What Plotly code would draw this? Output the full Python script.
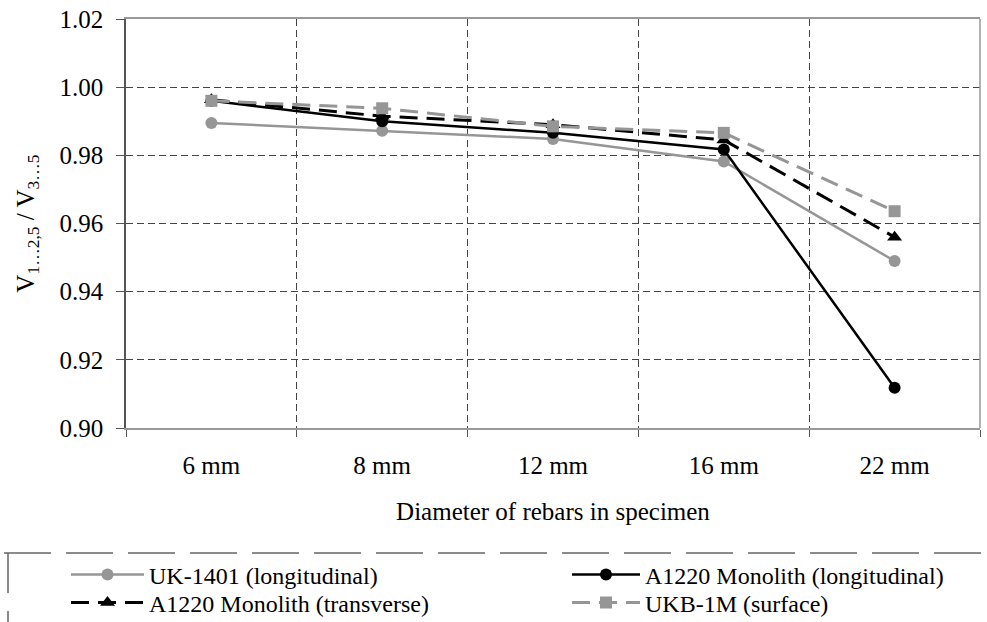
import plotly.graph_objects as go

categories = ["6 mm", "8 mm", "12 mm", "16 mm", "22 mm"]
uk1401_long = [0.9895, 0.9872, 0.9848, 0.9782, 0.9490]
a1220_long = [0.9960, 0.9900, 0.9866, 0.9817, 0.9118]
a1220_trans = [0.9963, 0.9915, 0.9890, 0.9845, 0.9560]
ukb1m_surf = [0.9960, 0.9938, 0.9885, 0.9866, 0.9636]
y_ticks = [0.90, 0.92, 0.94, 0.96, 0.98, 1.00, 1.02]

FONT = "Liberation Serif, Times New Roman, serif"
GRAY = "#969696"

fig = go.Figure()
fig.add_trace(go.Scatter(x=categories, y=uk1401_long, name="UK-1401 (longitudinal)",
                         mode="lines+markers", line=dict(color=GRAY, width=2.5),
                         marker=dict(symbol="circle", size=12, color=GRAY), legend="legend"))
fig.add_trace(go.Scatter(x=categories, y=a1220_long, name="A1220 Monolith (longitudinal)",
                         mode="lines+markers", line=dict(color="black", width=2.5),
                         marker=dict(symbol="circle", size=12, color="black"), legend="legend2"))
fig.add_trace(go.Scatter(x=categories, y=a1220_trans, name="A1220 Monolith (transverse)",
                         mode="lines+markers", line=dict(color="black", width=3, dash="18px,9px"),
                         marker=dict(symbol="triangle-up", size=13, color="black"), legend="legend3"))
fig.add_trace(go.Scatter(x=categories, y=ukb1m_surf, name="UKB-1M (surface)",
                         mode="lines+markers", line=dict(color=GRAY, width=3, dash="18px,9px"),
                         marker=dict(symbol="square", size=12, color=GRAY), legend="legend4"))

W, H = 987, 622
L, R, T, B = 126, 7, 19, 194
pw, ph = W - L - R, H - T - B

def px(xp):
    return (xp - L) / pw

def py(yp):
    return (H - B - yp) / ph

leg_common = dict(bgcolor="rgba(0,0,0,0)", borderwidth=0, font=dict(family=FONT, size=24, color="black"),
                  xanchor="left", yanchor="middle", orientation="v", visible=True)

fig.update_layout(
    width=W, height=H,
    showlegend=True,
    margin=dict(l=L, r=R, t=T, b=B, autoexpand=False),
    paper_bgcolor="white", plot_bgcolor="white",
    font=dict(family=FONT, size=25, color="black"),
    legend=dict(x=px(66), y=py(575), itemwidth=73, **leg_common),
    legend2=dict(x=px(567), y=py(575), itemwidth=68, **leg_common),
    legend3=dict(x=px(66), y=py(603), itemwidth=73, **leg_common),
    legend4=dict(x=px(567), y=py(603), itemwidth=68, **leg_common),
    xaxis=dict(
        type="category", range=[-0.5, 4.5], tickson="boundaries", ticks="outside", ticklen=7,
        tickcolor="#555",
        showgrid=True, gridcolor="#444", griddash="7px,4px", gridwidth=1,
        showline=True, linecolor="#999", linewidth=1.5, mirror=True,
        ticklabelstandoff=14,
        title=dict(text="Diameter of rebars in specimen", standoff=25, font=dict(size=25)),
        tickfont=dict(size=25),
    ),
    yaxis=dict(
        range=[0.90, 1.02], tickvals=y_ticks, tickformat=".2f", ticks="outside", ticklen=8,
        tickcolor="#555", showgrid=True, gridcolor="#444", griddash="7px,4px", gridwidth=1,
        showline=True, linecolor="#555", linewidth=1.5, zeroline=False,
        ticklabelstandoff=8,
        title=dict(text="V<sub>1…2,5</sub> / V<sub>3…5</sub>", standoff=18, font=dict(size=25)),
        tickfont=dict(size=25),
    ),
    shapes=[
        dict(type="line", xref="paper", yref="paper", x0=1, x1=1, y0=0, y1=1,
             line=dict(color="#999", width=1.5)),
        dict(type="line", xref="paper", yref="paper", x0=px(4), x1=px(1000), y0=py(553), y1=py(553),
             line=dict(color="#666", width=1.5, dash="47px,15px")),
        dict(type="line", xref="paper", yref="paper", x0=px(8), x1=px(8), y0=py(553), y1=py(640),
             line=dict(color="#666", width=1.5, dash="40px,18px")),
    ],
)

fig.write_html("out.html", config={"displayModeBar": False},
               post_script="document.body.style.margin='0px';")
